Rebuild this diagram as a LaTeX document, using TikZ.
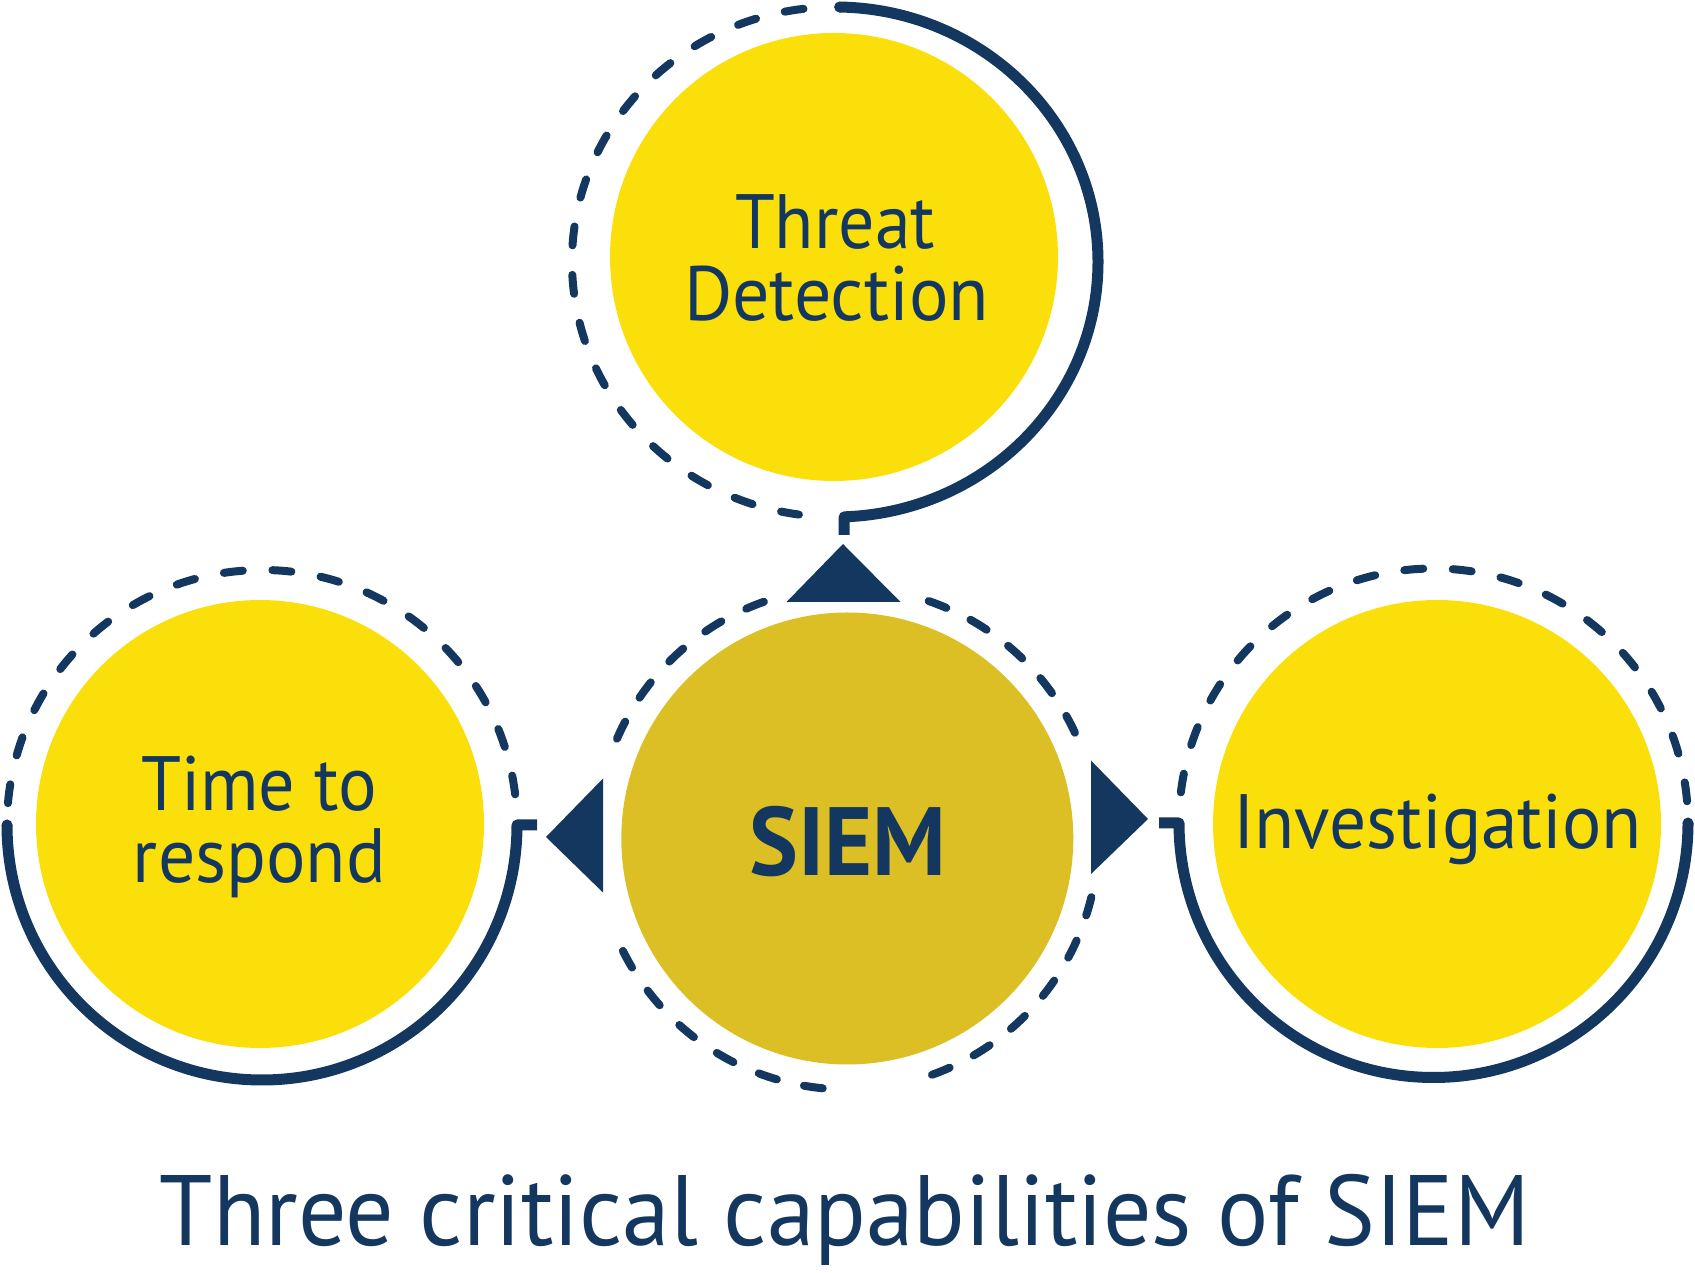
\documentclass[tikz,border=0pt]{standalone}
\usepackage{fontspec}
\setmainfont{PT Sans}
\usetikzlibrary{calc}
\definecolor{navy}{RGB}{19,55,94}
\definecolor{sunyellow}{RGB}{251,223,11}
\definecolor{mustard}{RGB}{219,191,36}
\newcommand\fitw[2]{\resizebox{#1}{\height}{#2}}
\newcommand\dashon{19}
% #1 centre, #2 x radius, #3 y radius, #4 start angle, #5 end angle (visible extents)
\newcommand\dasharc[5]{%
  \pgfmathsetmacro\rmean{(#2+#3)/2}%
  \pgfmathsetmacro\capang{4/\rmean*180/pi}%
  \pgfmathsetmacro\aone{#4+\capang}%
  \pgfmathsetmacro\atwo{#5-\capang}%
  \pgfmathsetmacro\arclen{\rmean*pi/180*(\atwo-\aone)}%
  \pgfmathsetmacro\ndash{max(2,round((\arclen+27)/48))}%
  \pgfmathsetmacro\gaplen{(\arclen-\ndash*\dashon)/(\ndash-1)}%
  \draw[dashring, dash pattern=on \dashon pt off \gaplen pt]
    ($(#1)+(\aone:#2 and #3)$) arc[start angle=\aone, end angle=\atwo, x radius=#2, y radius=#3];%
}
\begin{document}
\begin{tikzpicture}[x=1pt,y=1pt,
  disk/.style={circle, inner sep=0pt, draw=none, minimum size=#1},
  solidring/.style={draw=navy, line width=11pt, line cap=butt, line join=round},
  dashring/.style={draw=navy, line width=8pt, line cap=round},
  arrowhead/.style={fill=navy, draw=none},
  lbl/.style={text=navy, inner sep=0pt, anchor=base, font=\fontsize{77}{80}\selectfont},
]
\useasboundingbox (0,0) rectangle (1695,1272);

% disks
\node[disk=448pt, fill=sunyellow] (tdisk) at (834,1015) {};
\node[disk=448pt, fill=sunyellow] (ldisk) at (260,448) {};
\node[disk=448pt, fill=sunyellow] (rdisk) at (1437,448) {};
\node[disk=452pt, fill=mustard] (sdisk) at (847.3,433.5) {};

% ring centres
\coordinate (tc) at (835,1010);
\coordinate (lc) at (262,447);
\coordinate (rc) at (1433.5,449);
\coordinate (sc) at (847.3,433.5);

% solid halves with stubs
\draw[solidring] ($(tc)+(89:263 and 255)$) coordinate (tstart)
  arc[start angle=89, end angle=-88, x radius=263, y radius=255] -- ++(0,-18) coordinate (tstub);
\fill[navy] (tstart) circle (5.5);
\draw[solidring] ($(lc)+(180:255)$) coordinate (lstart)
  arc[start angle=180, end angle=360, radius=255] -- ++(20,0) coordinate (lstub);
\fill[navy] (lstart) circle (5.5);
\draw[solidring] ($(rc)+(0:254.5)$) coordinate (rstart)
  arc[start angle=0, end angle=-180, radius=254.5] -- ++(-20,0) coordinate (rstub);
\fill[navy] (rstart) circle (5.5);

% dashed halves
\dasharc{tc}{263}{255}{96}{263}
\dasharc{lc}{255}{255}{6}{176}
\dasharc{rc}{254.5}{254.5}{4}{174}
% SIEM dashed ring
\dasharc{sc}{251}{251}{24}{72}
\dasharc{sc}{251}{251}{108.5}{157.5}
\dasharc{sc}{251}{251}{205.7}{265.3}
\dasharc{sc}{251}{251}{288.8}{347.4}

% arrowheads
\coordinate (tapex) at (843,728);
\coordinate (lapex) at (546,435);
\coordinate (rapex) at (1148,453);
\fill[arrowhead] (tapex) -- (786.5,670) -- (900.5,670) -- cycle;
\fill[arrowhead] (lapex) -- (603,493.5) -- (603,379.5) -- cycle;
\fill[arrowhead] (rapex) -- (1091,511.5) -- (1091,398) -- cycle;

% labels
\node[lbl] (tline1) at (835,1023) {\fitw{200pt}{Threat}};
\node[lbl] (tline2) at (836.5,951) {\fitw{305pt}{Detection}};
\node[lbl] (lline1) at (259,461) {\fitw{236pt}{Time to}};
\node[lbl] (lline2) at (259.5,389) {\fitw{253pt}{respond}};
\node[lbl] (rline1) at (1437.5,423) {\fitw{409pt}{Investigation}};
\node[lbl, font=\fontsize{97}{100}\selectfont\bfseries] (siem) at (847.8,396) {\fitw{197pt}{SIEM}};
\node[lbl, font=\fontsize{100}{100}\selectfont] (title) at (845,27) {\fitw{1370pt}{Three critical capabilities of SIEM}};
\end{tikzpicture}
\end{document}
